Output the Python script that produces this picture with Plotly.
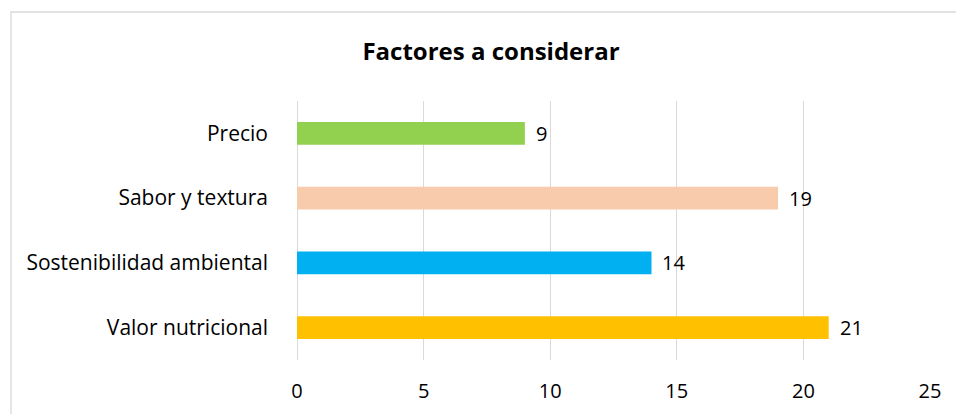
import plotly.graph_objects as go

categories = ["Valor nutricional", "Sostenibilidad ambiental", "Sabor y textura", "Precio"]
values = [21, 14, 19, 9]
colors = ["#FFC000", "#00B0F0", "#F8CBAD", "#92D050"]
x_ticks = [0, 5, 10, 15, 20, 25]
title_text = "Factores a considerar"

FONT = "Open Sans, sans-serif"

fig = go.Figure()
fig.add_trace(go.Bar(
    x=values, y=categories, orientation="h",
    marker=dict(color=colors, line=dict(width=0)),
    width=0.355, hoverinfo="skip",
))

for c, v in zip(categories, values):
    fig.add_annotation(x=v, y=c, text=str(v), showarrow=False,
                       xanchor="left", yanchor="middle", xshift=9,
                       font=dict(family=FONT, size=20, color="#000000"))

L, R, T, B = 297, 26, 101, 54
pw = 956 - L - R
ph = 414 - T - B

def px_to_paper_x(px):
    return (px - L) / pw

def px_to_paper_y(py):
    return (414 - B - py) / ph

fig.add_shape(type="rect", xref="paper", yref="paper",
              x0=px_to_paper_x(11), x1=px_to_paper_x(990),
              y0=px_to_paper_y(440), y1=px_to_paper_y(12),
              line=dict(color="#D9D9D9", width=1.3), fillcolor="rgba(0,0,0,0)", layer="below")

fig.update_layout(
    width=956, height=414,
    margin=dict(l=L, r=R, t=T, b=B, autoexpand=False),
    paper_bgcolor="white", plot_bgcolor="white",
    showlegend=False,
    title=dict(text="<b>" + title_text + "</b>", x=491 / 956,
               xanchor="center", y=1 - 52 / 414, yanchor="middle",
               font=dict(family=FONT, size=24, color="#000000")),
    font=dict(family=FONT, color="#000000"),
    xaxis=dict(range=[0, 25], tickvals=x_ticks, showgrid=True, gridcolor="#D9D9D9", gridwidth=1.3,
               zeroline=True, zerolinecolor="#D9D9D9", zerolinewidth=1.3,
               showline=False, ticks="", ticklabelstandoff=17, automargin=False,
               tickfont=dict(family=FONT, size=20, color="#000000"), fixedrange=True),
    yaxis=dict(showgrid=False, zeroline=False, showline=False, ticks="",
               ticklabelstandoff=28, automargin=False,
               tickfont=dict(family=FONT, size=21, color="#000000"), fixedrange=True),
)

fig.write_html("out.html")
